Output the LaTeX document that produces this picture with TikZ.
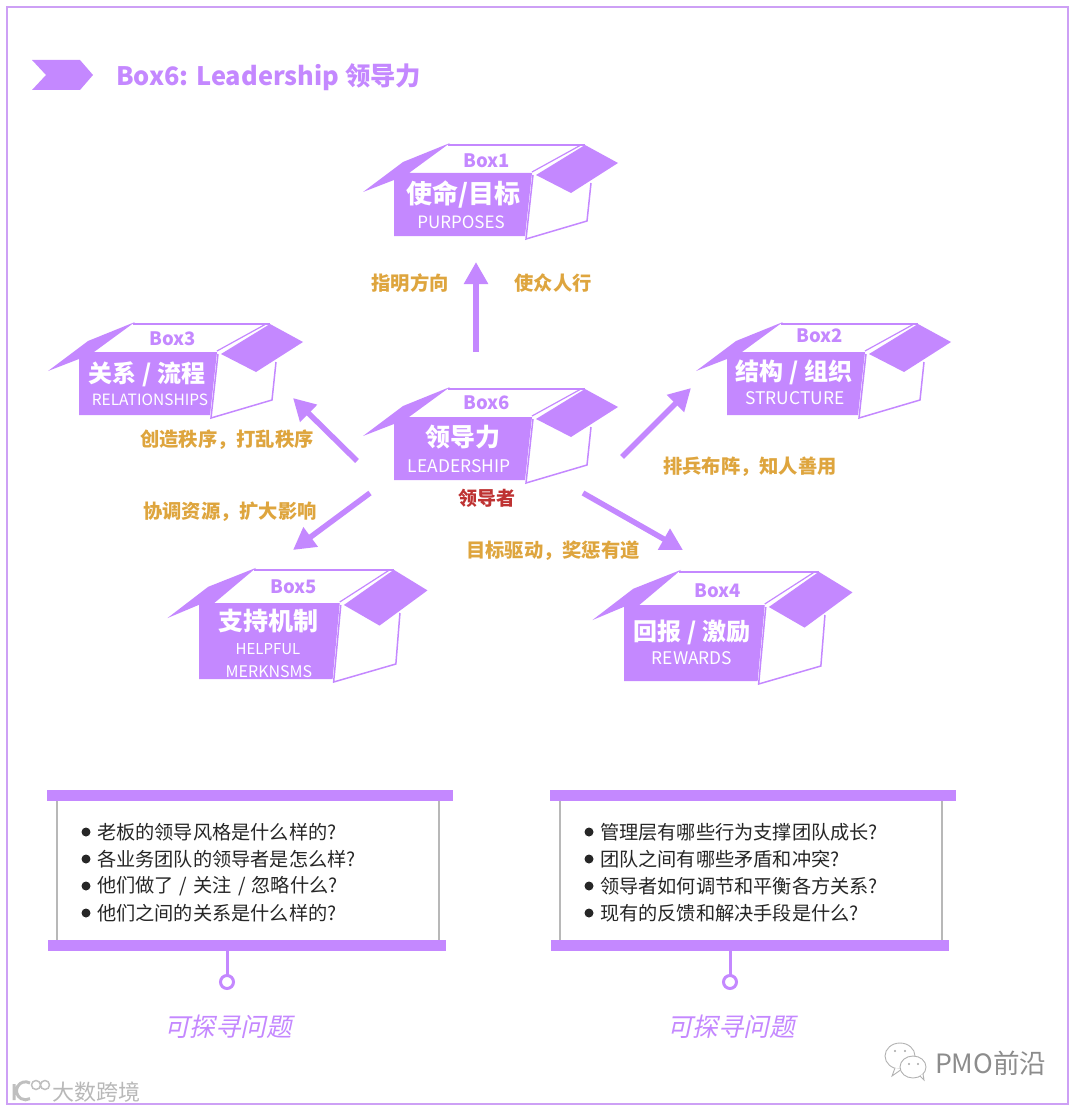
\documentclass[tikz,border=0pt]{standalone}
\usepackage{fontspec}
\setmainfont{Noto Sans CJK SC}
\newfontfamily\slantfont[FakeSlant=0.22]{Noto Sans CJK SC}
\usepackage{tikz}
\usetikzlibrary{arrows.meta,positioning,shapes.geometric,fit}
\definecolor{boxpurple}{RGB}{196,136,255}
\definecolor{framepurple}{RGB}{205,160,245}
\definecolor{goldtext}{RGB}{222,165,62}
\definecolor{redtext}{RGB}{190,50,50}
\newcommand{\pxsize}[1]{\fontsize{#1}{#1}\selectfont}
\newcommand{\qslash}{\hspace{1.8pt}/\hspace{1.8pt}}
% open carton: #1 origin (front bottom left), #2 scope options, #3 extra body height
\newcommand{\openbox}[3]{%
\begin{scope}[shift={#1},#2]
\draw[boxline] (54,-91-1.4*#3) -- (191,-91-1.4*#3);
\draw[boxline,line width=1.2pt] (138,-64-#3) -- (187,-91-1.4*#3);
\draw[boxline] (139,-61-#3) -- (132,3) -- (193,-15) -- (197,-53-#3);
\fill[boxpurple] (-31,-44-1.3*#3) -- (9,-74-1.4*#3) -- (56,-93-1.4*#3) -- (15,-63-#3) -- (138,-63-#3) -- (131,0) -- (0,0) -- (0,-56-1.4*#3) -- cycle;
\fill[boxpurple] (191,-91-1.4*#3) -- (224,-73-1.2*#3) -- (177,-43-0.8*#3) -- (142,-61-#3) -- cycle;
\end{scope}}
\begin{document}
\begin{tikzpicture}[x=1pt,y=-1pt,>=Latex,every node/.style={inner sep=0pt,outer sep=0pt},
boxline/.style={draw=boxpurple,line width=1.5pt},
boxtag/.style={font=\bfseries\pxsize{18.5},text=boxpurple},
boxname/.style={font=\bfseries\pxsize{24},text=white},
boxen/.style={font=\pxsize{17.4},text=white},
flowlabel/.style={font=\bfseries\pxsize{19.3},text=goldtext},
flow/.style={-{Triangle[length=22pt,width=23pt]},line width=5.5pt,draw=boxpurple},
bar/.style={fill=boxpurple,minimum height=11pt},
ask/.style={font=\pxsize{19.2},text=black!85,anchor=west},
wmark/.style={draw=black!30,line width=0.9pt,fill=white}]
\useasboundingbox (0,0) rectangle (1080,1110);
\draw[framepurple,line width=2pt] (7,7) rectangle (1068,1104);
% heading
\fill[boxpurple] (32,60) -- (80,60) -- (93,75) -- (80,90) -- (32,90) -- (46,75) -- cycle;
\node[font=\bfseries\pxsize{25.4},text=boxpurple,anchor=west] (heading) at (116,77) {Box6: Leadership 领导力};
% boxes
\openbox{(394,236)}{}{0}
\openbox{(727,415)}{}{0}
\openbox{(79,415)}{}{0}
\openbox{(394,480)}{}{0}
\openbox{(199,679)}{xscale=1.02}{13}
\openbox{(624,681)}{xscale=1.02}{13}
\node[boxtag] (b1tag) at (487,161) {Box1};
\node[boxname,font=\bfseries\pxsize{26}] (b1name) at (463,194.5) {使命/目标};
\node[boxen,font=\pxsize{17}] (b1en) at (461,222.5) {PURPOSES};
\node[boxtag] (b2tag) at (820,335.5) {Box2};
\node[boxname] (b2name) at (794,372) {结构 / 组织};
\node[boxen] (b2en) at (795,398.5) {STRUCTURE};
\node[boxtag] (b3tag) at (173,338.5) {Box3};
\node[boxname] (b3name) at (147,374) {关系 / 流程};
\node[boxen,font=\pxsize{15.5}] (b3en) at (150,399.5) {RELATIONSHIPS};
\node[boxtag] (b4tag) at (718,590.5) {Box4};
\node[boxname] (b4name) at (692,632) {回报 / 激励};
\node[boxen] (b4en) at (692,658.5) {REWARDS};
\node[boxtag] (b5tag) at (294,586.5) {Box5};
\node[boxname,font=\bfseries\pxsize{25}] (b5name) at (268,621) {支持机制};
\node[boxen,font=\pxsize{15}] (b5en) at (268,649.5) {HELPFUL};
\node[boxen,font=\pxsize{16}] (b5enb) at (269,671.5) {MERKNSMS};
\node[boxtag] (b6tag) at (487,402.5) {Box6};
\node[boxname,font=\bfseries\pxsize{25}] (b6name) at (463,437) {领导力};
\node[boxen] (b6en) at (459,466.5) {LEADERSHIP};
\node[font=\bfseries\pxsize{19},text=redtext] (lead) at (487,498) {领导者};
% arrows out of the middle box
\coordinate (upfrom) at (476,352);
\coordinate (upto) at (476,262);
\coordinate (nwfrom) at (357,461);
\coordinate (nwto) at (293,398);
\coordinate (nefrom) at (622,457);
\coordinate (neto) at (691,388);
\coordinate (swfrom) at (370,493);
\coordinate (swto) at (293,550);
\coordinate (sefrom) at (583,493);
\coordinate (seto) at (683,550);
\foreach \x/\y in {upfrom/upto,nwfrom/nwto,nefrom/neto,swfrom/swto,sefrom/seto}{\draw[flow] (\x) -- (\y);}
\node[flowlabel] (up1) at (410,283) {指明方向};
\node[flowlabel] (up2) at (553,283) {使众人行};
\node[flowlabel] (nw) at (227,440) {创造秩序，打乱秩序};
\node[flowlabel] (ne) at (750,467) {排兵布阵，知人善用};
\node[flowlabel] (sw) at (230,512) {协调资源，扩大影响};
\node[flowlabel] (se) at (553,551) {目标驱动，奖惩有道};
% the two question panels
\foreach \n/\d/\qa/\qb/\qc/\qd in {
  qleft/0/老板的领导风格是什么样的?/各业务团队的领导者是怎么样?/他们做了 \qslash{} 关注 \qslash{} 忽略什么?/他们之间的关系是什么样的?,
  qright/503/管理层有哪些行为支撑团队成长?/团队之间有哪些矛盾和冲突?/领导者如何调节和平衡各方关系?/现有的反馈和解决手段是什么?}{
\begin{scope}[xshift=\d pt]
\draw[black!28,line width=1.2pt] (57,801) -- (57,940) (439,801) -- (439,940);
\node[bar,minimum width=406pt] (\n top) at (250,795.5) {};
\node[bar,minimum width=398pt] (\n bot) at (247,945.5) {};
\node[circle,draw=boxpurple,line width=3pt,minimum size=13pt] (\n ring) at (227,982) {};
\draw[boxpurple,line width=3pt] (227,951) -- (\n ring);
\foreach \yy in {832,859,886,913}{\fill[black!85] (86,\yy) circle (4.5pt);}
\node[ask] (\n a) at (97,832) {\qa};
\node[ask] (\n b) at (97,859) {\qb};
\node[ask] (\n c) at (97,886) {\qc};
\node[ask] (\n d) at (97,913) {\qd};
\node[font=\slantfont\pxsize{25.6},text=boxpurple] (\n cap) at (228,1027) {可探寻问题};
\end{scope}}
% watermarks
\draw[wmark] (900,1056) ellipse (15pt and 13pt);
\draw[wmark] (895,1068) -- (892,1076) -- (902,1069);
\draw[wmark] (913,1067) ellipse (13pt and 11pt);
\draw[wmark] (920,1076) -- (924,1080) -- (923,1074);
\foreach \px/\py in {895/1051,905/1051,909/1064,918/1064}{\fill[black!35] (\px,\py) circle (1.2pt);}
\node[font=\pxsize{26.6},text=black!45,anchor=west] (pmo) at (935,1063) {PMO前沿};
\draw[black!25,line width=3pt] (14,1084) -- (14,1100) (30,1083) arc (60:300:9pt);
\draw[black!25,line width=1.5pt] (36,1085) circle (4.5pt) (45,1085) circle (4.5pt);
\node[font=\pxsize{22},text=black!28,anchor=west] (bigdata) at (52,1092) {大数跨境};
\end{tikzpicture}
\end{document}
